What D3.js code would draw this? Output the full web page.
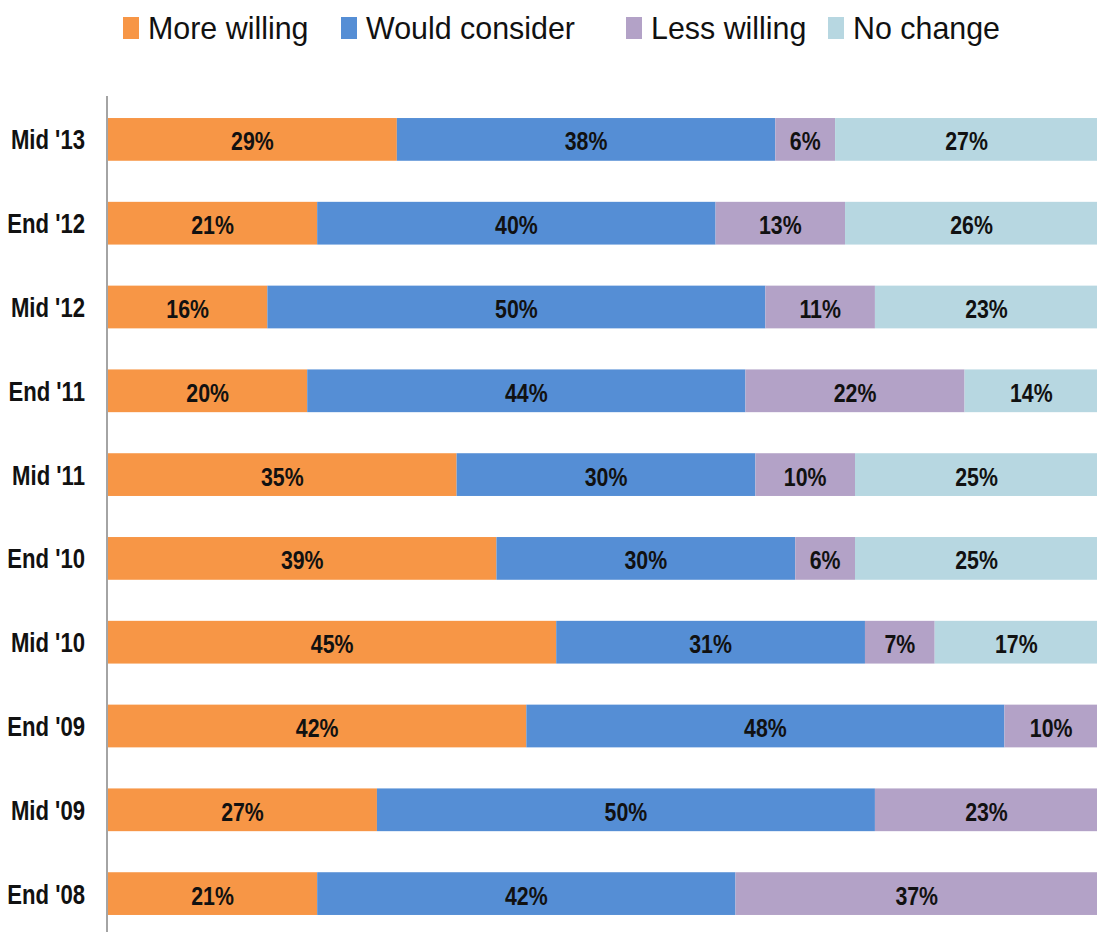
<!DOCTYPE html>
<html>
<head>
<meta charset="utf-8">
<script src="https://cdn.jsdelivr.net/npm/d3@7"></script>
<style>
  html, body { margin: 0; padding: 0; background: #fff; overflow: hidden; }
  svg { display: block; }
  text { font-family: "Liberation Sans", Arial, sans-serif; fill: #111; }
</style>
</head>
<body>
<svg id="chart" width="1097" height="932"></svg>
<script>
// Survey periods, top to bottom
const periods = ["Mid '13", "End '12", "Mid '12", "End '11", "Mid '11", "End '10", "Mid '10", "End '09", "Mid '09", "End '08"];

// Share of respondents (%) per answer, in the same order as periods
const moreWilling    = [29, 21, 16, 20, 35, 39, 45, 42, 27, 21];
const wouldConsider  = [38, 40, 50, 44, 30, 30, 31, 48, 50, 42];
const lessWilling    = [ 6, 13, 11, 22, 10,  6,  7, 10, 23, 37];
const noChange       = [27, 26, 23, 14, 25, 25, 17,  0,  0,  0];

const seriesNames  = ["More willing", "Would consider", "Less willing", "No change"];
const seriesColors = ["#F79646", "#558ED5", "#B3A2C7", "#B7D7E1"];

// Horizontal squeeze that gives the condensed lettering
const NARROW = 0.82;
const LEGEND_NARROW = 0.95;

const rows = periods.map((p, i) => ({
  period: p,
  "More willing": moreWilling[i],
  "Would consider": wouldConsider[i],
  "Less willing": lessWilling[i],
  "No change": noChange[i]
}));

const svg = d3.select("#chart");

const x = d3.scaleLinear().domain([0, 100]).range([107, 1103]);
const y = d3.scaleBand().domain(periods).range([97.5, 935.5])
  .paddingInner(0.49).paddingOuter(0.245);
const color = d3.scaleOrdinal().domain(seriesNames).range(seriesColors);

const stacked = d3.stack().keys(seriesNames)(rows);

// Stacked bars
const layers = svg.append("g").selectAll("g")
  .data(stacked).join("g")
  .attr("fill", d => color(d.key));

layers.selectAll("rect")
  .data(d => d.filter(s => s[1] - s[0] > 0))
  .join("rect")
  .attr("x", d => x(d[0]) + 1)
  .attr("y", d => y(d.data.period))
  .attr("width", d => x(d[1]) - x(d[0]))
  .attr("height", y.bandwidth());

// Value labels centred in each segment
layers.selectAll("text")
  .data(d => d.filter(s => s[1] - s[0] > 0))
  .join("text")
  .attr("transform", d => {
    const cx = (x(d[0]) + Math.min(x(d[1]), 1097)) / 2 + 1;
    const cy = y(d.data.period) + y.bandwidth() / 2 + 11;
    return `translate(${cx},${cy}) scale(${NARROW},1)`;
  })
  .attr("text-anchor", "middle")
  .attr("font-size", 26)
  .attr("font-weight", "bold")
  .text(d => (d[1] - d[0]) + "%");

// Category axis
const axis = svg.append("g").attr("transform", "translate(107,0)")
  .call(d3.axisLeft(y).tickSize(0).tickPadding(0));
axis.select(".domain").attr("stroke", "#868686").attr("stroke-width", 1.5)
  .attr("d", "M0,96V932");
axis.selectAll(".tick text")
  .attr("x", 0)
  .attr("dy", null)
  .attr("transform", `translate(-22,10) scale(${NARROW},1)`)
  .attr("font-size", 27)
  .attr("font-weight", "bold")
  .attr("font-family", null)
  .attr("fill", "#111");

// Legend
const legendX = [123, 341, 626, 828];
const legend = svg.append("g").selectAll("g")
  .data(seriesNames).join("g")
  .attr("transform", (d, i) => `translate(${legendX[i]},0)`);
legend.append("rect")
  .attr("x", 0).attr("y", 17).attr("width", 16).attr("height", 22)
  .attr("fill", d => color(d));
legend.append("text")
  .attr("transform", `translate(25,39) scale(${LEGEND_NARROW},1)`)
  .attr("font-size", 32)
  .text(d => d);
</script>
</body>
</html>
